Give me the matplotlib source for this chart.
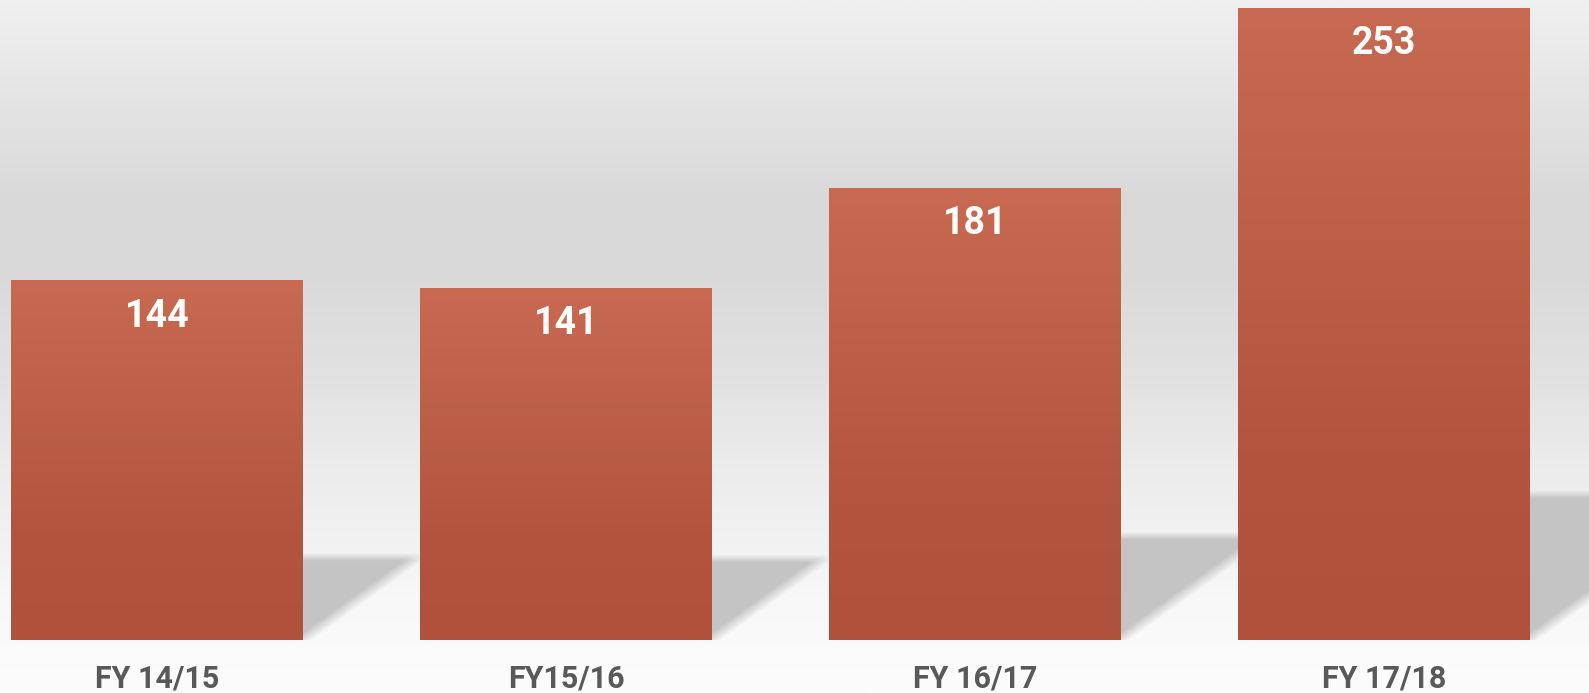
import numpy as np
import matplotlib
matplotlib.use('Agg')
import matplotlib.pyplot as plt
from matplotlib.colors import LinearSegmentedColormap, to_rgb

categories = ['FY 14/15', 'FY15/16', 'FY 16/17', 'FY 17/18']
values = [144, 141, 181, 253]

plt.rcParams['font.family'] = ['Roboto', 'DejaVu Sans']

W, H = 1589, 693
fig = plt.figure(figsize=(W / 100, H / 100), dpi=100)

# background wall gradient
bg = fig.add_axes([0, 0, 1, 1], zorder=0)
stops = [(0, '#f0f0f0'), (100, '#e4e4e4'), (200, '#d9d9d9'), (280, '#dadada'),
         (380, '#e2e2e2'), (470, '#ececec'), (545, '#f2f2f2'), (600, '#f8f8f8'),
         (693, '#fcfcfc')]
bg_cmap = LinearSegmentedColormap.from_list('bg', [(p / H, c) for p, c in stops])
grad = np.linspace(0, 1, 400).reshape(-1, 1)
bg.imshow(grad, cmap=bg_cmap, aspect='auto', extent=[0, 1, 1, 0], vmin=0, vmax=1)
bg.set_xlim(0, 1)
bg.set_ylim(1, 0)
bg.axis('off')

ax = fig.add_axes([0, 53 / H, 1, 640 / H], zorder=1)
ax.set_facecolor('none')
xlim = (-0.384, 3.501)
ylim = (0, 256.2)
ax.set_xlim(*xlim)
ax.set_ylim(*ylim)
ax.axis('off')

x = np.arange(len(categories))
width = 0.712

# soft shadows on the floor
px_x = W / (xlim[1] - xlim[0])
px_y = 640 / (ylim[1] - ylim[0])
gx = np.linspace(xlim[0], xlim[1], W)
gy = np.linspace(ylim[0], ylim[1], 640)
XX, YY = np.meshgrid(gx, gy)
alpha = np.zeros_like(XX)
for xi, v in zip(x, values):
    hs = 0.23 * v
    dx = 1.39 * hs * px_y / px_x
    R = xi + width / 2
    edge = R + YY / hs * dx
    a_diag = np.clip(((edge - XX) * px_x) / 20 + 0.5, 0, 1)
    a_top = np.clip(((hs - YY) * px_y) / 8 + 0.5, 0, 1)
    a = a_diag * a_top * (YY >= 0) * (XX >= R - 0.01)
    alpha = np.maximum(alpha, a)
sh = np.zeros(alpha.shape + (4,))
sh[..., :3] = to_rgb('#c4c4c4')
sh[..., 3] = alpha
ax.imshow(sh, extent=[xlim[0], xlim[1], ylim[0], ylim[1]], origin='lower',
          aspect='auto', zorder=1, interpolation='bilinear')

# bars with vertical gradient
bars = ax.bar(x, values, width=width, color='#bd5e46', zorder=2)
bar_cmap = LinearSegmentedColormap.from_list(
    'bar', [(0, '#b0523b'), (0.3, '#b3553e'), (1, '#c76a51')])
vgrad = np.linspace(0, 1, 256).reshape(-1, 1)
for b in bars:
    im = ax.imshow(vgrad, cmap=bar_cmap, aspect='auto', origin='lower',
                   extent=[b.get_x(), b.get_x() + b.get_width(), 0, b.get_height()],
                   zorder=3)
    im.set_clip_path(b)
ax.set_xlim(*xlim)
ax.set_ylim(*ylim)

for xi, v, lab in zip(x, values, categories):
    ax.annotate(str(v), (xi, v), xytext=(0, -36), textcoords='offset pixels',
                ha='center', va='center', color='white', fontsize=27,
                fontweight='bold', zorder=4)
    ax.annotate(lab, (xi, 0), xytext=(0, -47), textcoords='offset pixels',
                ha='center', va='baseline', color='#595959', fontsize=22,
                fontweight='bold', annotation_clip=False, zorder=4)

fig.savefig('out.png', dpi=100)
